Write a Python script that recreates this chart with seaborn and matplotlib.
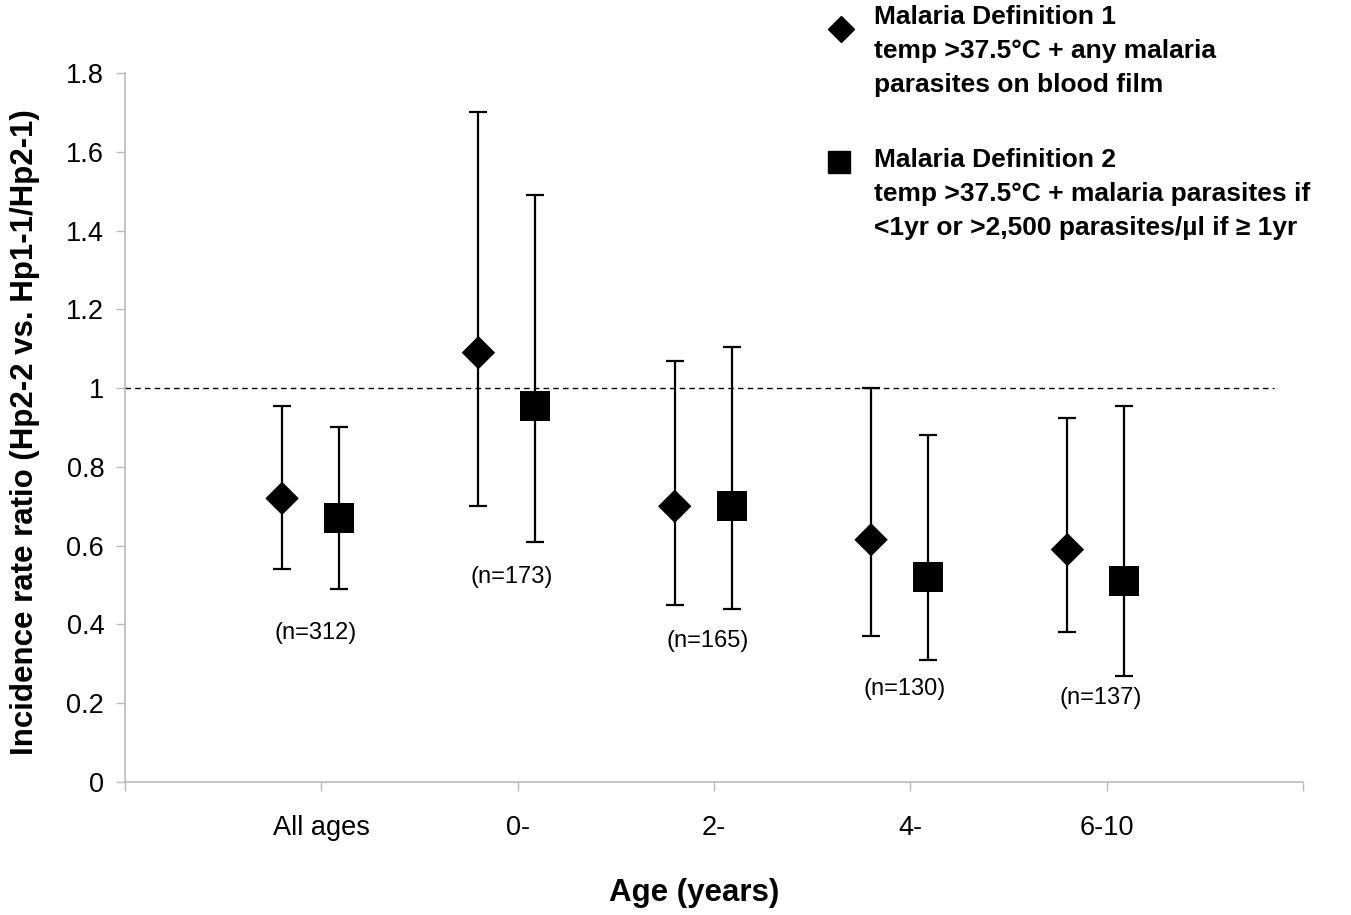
import matplotlib
matplotlib.use("Agg")
import matplotlib.pyplot as plt
import seaborn as sns
import pandas as pd
import numpy as np
from matplotlib.lines import Line2D

categories = ["All ages", "0-", "2-", "4-", "6-10"]
def1_irr = [0.72, 1.09, 0.70, 0.615, 0.59]
def1_lo = [0.54, 0.70, 0.45, 0.37, 0.38]
def1_hi = [0.955, 1.70, 1.07, 1.00, 0.925]
def2_irr = [0.67, 0.955, 0.70, 0.52, 0.51]
def2_lo = [0.49, 0.61, 0.44, 0.31, 0.27]
def2_hi = [0.90, 1.49, 1.105, 0.88, 0.955]
n_labels = ["(n=312)", "(n=173)", "(n=165)", "(n=130)", "(n=137)"]
n_y = [0.378, 0.52, 0.358, 0.236, 0.213]
yticks = [0, 0.2, 0.4, 0.6, 0.8, 1, 1.2, 1.4, 1.6, 1.8]
ytick_labels = ["0", "0.2", "0.4", "0.6", "0.8", "1", "1.2", "1.4", "1.6", "1.8"]

sns.set_theme(style="white")
plt.rcParams["font.family"] = ["Liberation Sans", "DejaVu Sans"]
plt.rcParams["text.color"] = "black"
plt.rcParams["xtick.color"] = "#bbbbbb"
plt.rcParams["ytick.color"] = "#bbbbbb"
plt.rcParams["xtick.labelcolor"] = "black"
plt.rcParams["ytick.labelcolor"] = "black"

fig = plt.figure(figsize=(13.51, 9.15), dpi=100)
ax = fig.add_axes([125/1351, 1-782/915, (1303-125)/1351, (782-73)/915])

pos = np.arange(1, len(categories) + 1)
x1 = pos - 0.2
x2 = pos + 0.09

df = pd.DataFrame({
    "x": np.concatenate([x1, x2]),
    "irr": def1_irr + def2_irr,
    "series": ["Malaria Definition 1"] * 5 + ["Malaria Definition 2"] * 5,
})

ekw = dict(fmt="none", ecolor="black", elinewidth=1.6, capsize=6.5, capthick=1.6, zorder=2)
ax.errorbar(x1, def1_irr, yerr=[np.array(def1_irr) - np.array(def1_lo), np.array(def1_hi) - np.array(def1_irr)], **ekw)
ax.errorbar(x2, def2_irr, yerr=[np.array(def2_irr) - np.array(def2_lo), np.array(def2_hi) - np.array(def2_irr)], **ekw)

sns.scatterplot(data=df, x="x", y="irr", style="series", size="series",
                markers={"Malaria Definition 1": "D", "Malaria Definition 2": "s"},
                sizes={"Malaria Definition 1": 290, "Malaria Definition 2": 467},
                color="black", edgecolor="black", linewidth=0, legend=False, ax=ax, zorder=3)

ax.axhline(1.0, xmin=0, xmax=5.85/6, color="black", linestyle=(0, (4, 3)), linewidth=1.0, zorder=1)

for xi, lab, yy in zip(pos, n_labels, n_y):
    ax.text(xi - 0.03, yy, lab, ha="center", va="center", fontsize=17)

ax.set_xlim(0, 6)
ax.set_ylim(0, 1.8)
ax.set_yticks(yticks)
ax.set_yticklabels(ytick_labels, fontsize=19.5)
ax.set_xticks(np.arange(0, 7))
ax.set_xticklabels([""] * 7)
for xi, lab in zip(pos, categories):
    ax.text(xi, -0.117, lab, ha="center", va="center", fontsize=19.5)

ax.tick_params(axis="both", direction="out", length=6.5, width=1, color="#bbbbbb", pad=8.5,
               bottom=True, left=True)
for side in ["top", "right"]:
    ax.spines[side].set_visible(False)
for side in ["left", "bottom"]:
    ax.spines[side].set_color("#bbbbbb")
    ax.spines[side].set_linewidth(1.2)

ax.set_xlabel("")
ax.set_ylabel("")
fig.text(25/1351, 1-432/915, "Incidence rate ratio (Hp2-2 vs. Hp1-1/Hp2-1)", rotation=90,
         ha="center", va="center", fontsize=22.5, fontweight="bold")
fig.text(694/1351, 1-893/915, "Age (years)", ha="center", va="center", fontsize=22.5, fontweight="bold")

# Legend
leg1 = "Malaria Definition 1\ntemp >37.5\u00b0C + any malaria\nparasites on blood film"
leg2 = "Malaria Definition 2\ntemp >37.5\u00b0C + malaria parasites if\n<1yr or >2,500 parasites/\u00b5l if \u2265 1yr"
fig.text(874/1351, 1-5/915, leg1, ha="left", va="top", fontsize=19, fontweight="bold", linespacing=1.53)
fig.text(874/1351, 1-148/915, leg2, ha="left", va="top", fontsize=19, fontweight="bold", linespacing=1.53)
fig.add_artist(Line2D([841/1351], [1-28.5/915], marker="D", color="black", markersize=13.2, linestyle="none",
                      transform=fig.transFigure))
fig.add_artist(Line2D([839/1351], [1-161.5/915], marker="s", color="black", markersize=16, linestyle="none",
                      transform=fig.transFigure))

fig.savefig("out.png", dpi=100)
